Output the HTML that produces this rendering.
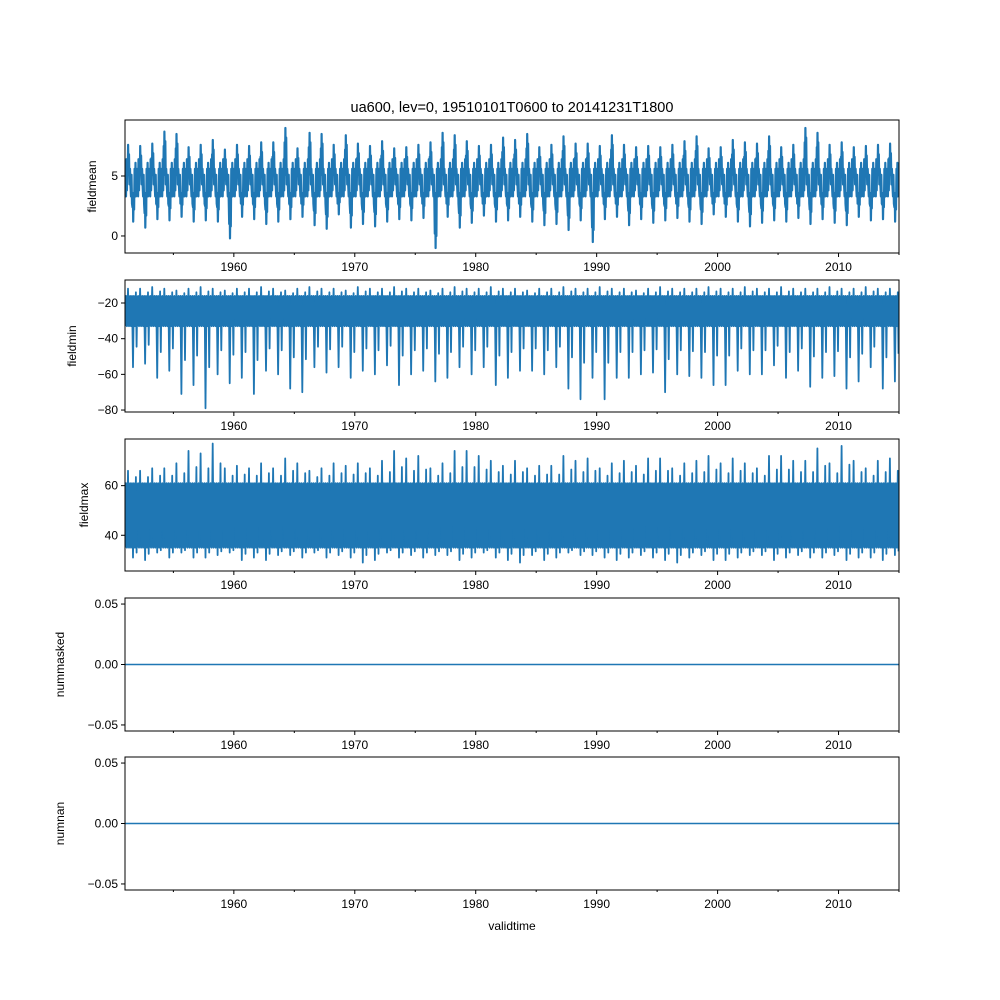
<!DOCTYPE html>
<html><head><meta charset="utf-8"><style>
body{margin:0;background:#fff;}
svg{display:block;font-family:"Liberation Sans","DejaVu Sans",sans-serif;}
</style></head><body>
<svg id="fig" width="1000" height="1000" viewBox="0 0 1000 1000"></svg>
<script>
const years=[];for(let y=1951;y<=2014;y++)years.push(y);
const xTicks=[1960,1970,1980,1990,2000,2010];
const xMinor=[1955,1965,1975,1985,1995,2005,2015];
// fieldmean
const meanMax=[7.6,7.5,7.7,8.7,8.5,7.4,7.6,8.0,7.2,7.6,7.5,7.8,7.8,9.0,7.3,8.6,8.5,7.6,8.4,7.7,7.5,7.9,7.3,7.4,7.6,7.8,8.6,8.4,7.9,7.5,7.6,8.2,8.0,8.5,7.4,7.6,8.3,7.7,7.7,7.5,8.4,7.6,7.4,7.5,7.4,7.6,7.9,8.3,7.3,7.4,8.0,7.8,7.7,8.3,7.4,7.6,9.0,8.6,7.6,7.8,7.4,7.5,7.6,7.7];
const meanMin=[1.2,0.7,1.4,1.3,1.6,1.2,1.3,1.2,-0.2,1.6,1.4,1.0,1.2,1.4,1.6,0.9,0.6,1.8,0.7,1.0,0.8,1.2,1.4,1.3,1.5,-1.0,1.6,0.7,1.1,1.7,1.2,1.3,1.6,1.2,0.9,1.0,0.5,1.3,-0.5,1.4,1.6,0.9,1.4,1.1,1.3,1.5,1.2,1.0,1.8,1.6,1.2,0.8,1.1,1.3,1.2,1.5,1.0,1.4,1.1,0.9,1.6,1.3,1.4,1.2];
const meanBand=[3.3,5.6];
// fieldmin
const minMax=[-12,-12,-11,-12,-13,-12,-11,-12,-13,-12,-12,-11,-12,-13,-12,-11,-12,-12,-13,-11,-12,-12,-11,-12,-12,-13,-12,-11,-12,-12,-11,-12,-12,-13,-12,-12,-11,-12,-12,-11,-12,-12,-13,-12,-11,-12,-12,-12,-11,-12,-12,-11,-12,-12,-11,-12,-12,-12,-11,-12,-12,-11,-12,-12];
const minMin=[-56,-54,-62,-58,-71,-66,-79,-60,-65,-62,-71,-58,-60,-68,-70,-56,-59,-56,-62,-58,-60,-55,-66,-60,-58,-64,-62,-56,-60,-56,-66,-62,-58,-58,-60,-56,-68,-74,-62,-74,-62,-62,-60,-59,-70,-60,-61,-62,-66,-66,-58,-60,-60,-55,-62,-58,-67,-62,-61,-68,-64,-56,-68,-64];
const minBand=[-16,-33];
// fieldmax
const maxMax=[66,66,67,67,69,74,73,77,67,68,67,69,67,71,69,66,67,69,68,69,67,70,74,71,72,67,69,74,74,72,70,68,70,67,68,68,72,70,71,67,69,70,68,71,71,67,69,70,72,69,71,69,67,72,72,70,70,75,69,76,70,67,70,71];
const maxMin=[31,30,33,31,33,31,31,32,33,30,31,30,32,32,31,33,31,32,31,29,30,33,31,32,31,32,32,30,31,33,31,30,29,32,30,31,33,32,32,31,30,31,32,31,30,29,31,32,30,30,31,32,32,30,31,32,31,31,32,30,31,31,30,32];
const maxBand=[35,61];
const zeroSeries=[0,0];

const svg=document.getElementById('fig');
const NS='http://www.w3.org/2000/svg';
function el(t,a,p){const e=document.createElementNS(NS,t);for(const k in a)e.setAttribute(k,a[k]);(p||svg).appendChild(e);return e;}
const X0=125,X1=899,T0=1951,T1=2015;
function xs(t){return X0+(t-T0)/(T1-T0)*(X1-X0);}
const C='#1f77b4';

const panels=[
 {name:'fieldmean',top:120,bot:253,lo:-1.42,hi:9.67,ticks:[0,5],fmt:v=>String(v),mx:meanMax,mn:meanMin,band:meanBand,lab:86,seasonal:true},
 {name:'fieldmin',top:280,bot:412,lo:-81.1,hi:-7.1,ticks:[-80,-60,-40,-20],fmt:v=>String(v).replace('-','−'),mx:minMax,mn:minMin,band:minBand,lab:66},
 {name:'fieldmax',top:439,bot:571,lo:25.6,hi:78.8,ticks:[40,60],fmt:v=>String(v),mx:maxMax,mn:maxMin,band:maxBand,lab:78},
 {name:'nummasked',top:598,bot:731,lo:-0.055,hi:0.055,ticks:[-0.05,0,0.05],fmt:v=>v.toFixed(2).replace('-','−'),zero:true,lab:54},
 {name:'numnan',top:757,bot:890,lo:-0.055,hi:0.055,ticks:[-0.05,0,0.05],fmt:v=>v.toFixed(2).replace('-','−'),zero:true,lab:54}
];

panels.forEach(p=>{
 const g=el('g',{});
 
 
 const ys=v=>p.bot-(v-p.lo)/(p.hi-p.lo)*(p.bot-p.top);
 const cp='cp-'+p.name;
 const cl=el('clipPath',{id:cp},g);
 el('rect',{x:X0,y:p.top,width:X1-X0,height:p.bot-p.top},cl);
 const dg=el('g',{'clip-path':'url(#'+cp+')'},g);
 if(p.zero){
  const l=el('line',{x1:xs(T0),x2:xs(T1),y1:ys(zeroSeries[0]),y2:ys(zeroSeries[1]),stroke:C,'stroke-width':1.5},dg);
  
  
 } else {
  const bh=Math.max(...p.band),bl=Math.min(...p.band);
  if(!p.seasonal){
   const b=el('rect',{x:X0,width:X1-X0,y:ys(bh),height:Math.abs(ys(bh)-ys(bl)),fill:C},dg);
   
   
  }
  let d='';
  years.forEach((yr,i)=>{
   let pts;
   if(p.seasonal){
    const mx=p.mx[i],mn=p.mn[i],mid=(bh+bl)/2;
    pts=[[0,mid],[0.04,bh],[0.08,bl],[0.12,bh+0.8],[0.16,bl+0.5],[0.2,mx-1.2],[0.23,bh],[0.26,mx],[0.3,bh-0.5],[0.33,mx-0.8],[0.37,bl+1],[0.41,bh],[0.45,mid],[0.5,bl],[0.54,bh-0.5],[0.58,bl-0.6],[0.62,mn+1.2],[0.65,bl],[0.68,mn],[0.72,bl+0.3],[0.75,mn+1],[0.79,bh],[0.83,bl],[0.87,bh+0.5],[0.91,bl],[0.95,bh]];
   } else {
    pts=[[0,(bh+bl)/2],[0.08,bh],[0.16,bl],[0.25,p.mx[i]],[0.33,bl],[0.42,bh],[0.5,bl],[0.58,bh],[0.66,p.mn[i]],[0.74,bh],[0.82,bl],[0.9,(p.mx[i]+bh)/2],[0.96,(p.mn[i]+bl)/2]];
   }
   pts.forEach((q,j)=>{d+=(i==0&&j==0?'M':'L')+xs(yr+q[0]).toFixed(1)+','+ys(q[1]).toFixed(1);});
  });
  const l=el('path',{d:d,fill:'none',stroke:C,'stroke-width':p.seasonal?2.2:1.8,'stroke-linejoin':'round'},dg);
  
  
 }
 const fr=el('rect',{x:X0,y:p.top,width:X1-X0,height:p.bot-p.top,fill:'none',stroke:'#000','stroke-width':1},g);
 
 
 xTicks.forEach(t=>{
  el('line',{x1:xs(t),x2:xs(t),y1:p.bot,y2:p.bot+4,stroke:'#000'},g);
  const tx=el('text',{x:xs(t),y:p.bot+18,'font-size':12,'text-anchor':'middle'},g);
  tx.textContent=t;
  
  
 });
 xMinor.forEach(t=>el('line',{x1:xs(t),x2:xs(t),y1:p.bot,y2:p.bot+2,stroke:'#000'},g));
 p.ticks.forEach(v=>{
  const y=ys(v);
  el('line',{x1:X0-4,x2:X0,y1:y,y2:y,stroke:'#000'},g);
  const tx=el('text',{x:X0-7,y:y+4,'font-size':12,'text-anchor':'end'},g);
  tx.textContent=p.fmt(v);
  
  
 });
 const yl=el('text',{x:0,y:0,'font-size':12,'text-anchor':'middle',transform:'translate('+(p.lab+10)+','+((p.top+p.bot)/2)+') rotate(-90)'},g);
 yl.textContent=p.name;
 
 
});
const title=el('text',{x:512,y:112,'font-size':14.5,'text-anchor':'middle'});
title.textContent='ua600, lev=0, 19510101T0600 to 20141231T1800';


const xl=el('text',{x:512,y:930,'font-size':12,'text-anchor':'middle'});
xl.textContent='validtime';


</script>
</body></html>
